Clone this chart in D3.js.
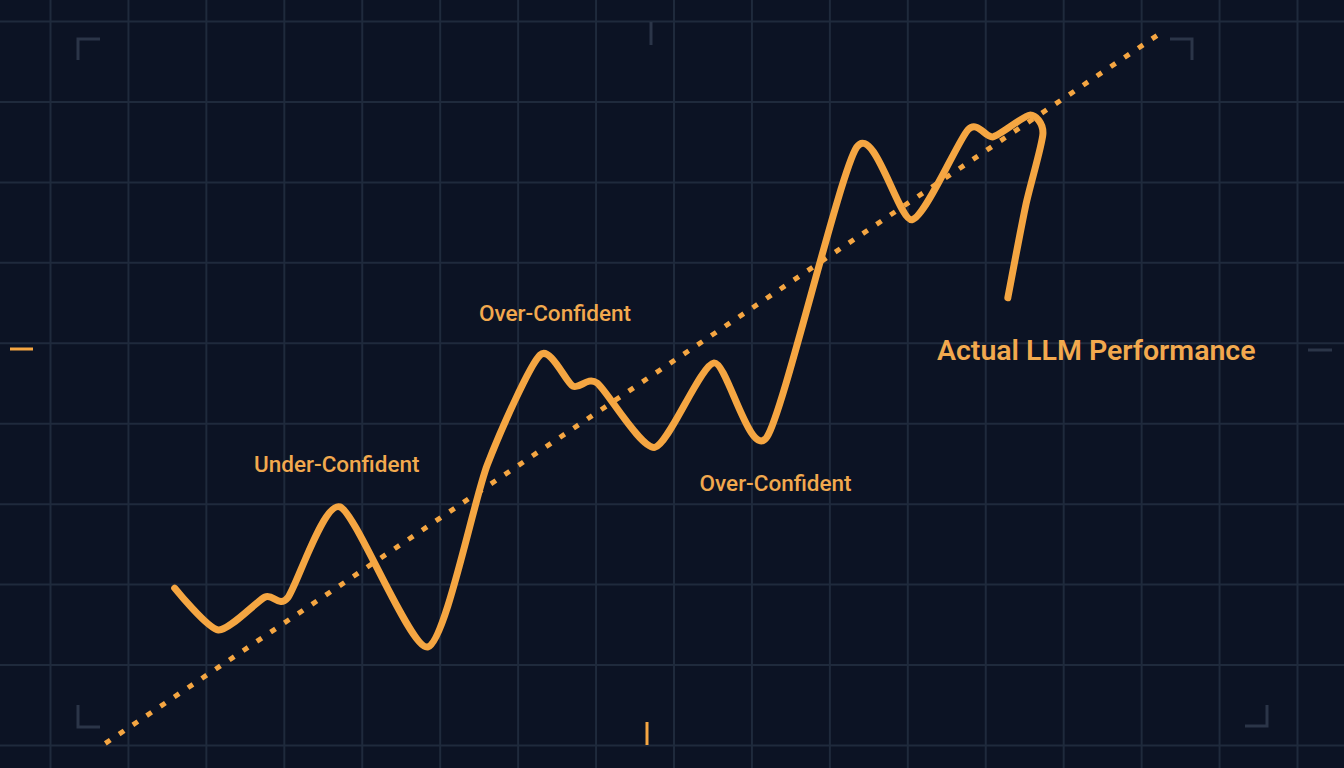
<!DOCTYPE html>
<html>
<head>
<meta charset="utf-8">
<script src="https://cdn.jsdelivr.net/npm/d3@7"></script>
<style>
  html, body { margin: 0; padding: 0; background: #0c1324; }
  svg { display: block; }
</style>
</head>
<body>
<svg id="chart" width="1344" height="768"></svg>
<script>
// ---- Data (grid units: x = step, y = performance level) ----
const perfX = [1.60, 2.16, 2.76, 3.05, 3.72, 4.85, 5.61, 6.29, 6.71, 7.02, 7.76, 8.52, 9.20, 10.35, 11.06, 11.78, 12.10, 12.57, 12.74, 12.52, 12.29];
const perfY = [1.95, 1.43, 1.84, 1.83, 2.96, 1.22, 3.48, 4.85, 4.46, 4.50, 3.70, 4.75, 3.83, 7.43, 6.53, 7.65, 7.56, 7.83, 7.60, 6.71, 5.56];
const trendX = [0.71, 14.22];
const trendY = [0.02, 8.83];
const gridXTicks = d3.range(0, 17);
const gridYTicks = d3.range(0, 10);
const labelText = ["Under-Confident", "Over-Confident", "Over-Confident", "Actual LLM Performance"];
const labelX = [3.68, 6.48, 9.31, 11.38];
const labelY = [3.39, 5.27, 3.16, 4.79];

// ---- Layout ----
const W = 1344, H = 768;
const svg = d3.select("#chart");
const x = d3.scaleLinear().domain([0, 16]).range([50, 1297]);
const y = d3.scaleLinear().domain([0, 9]).range([745, 21]);

const ORANGE = "#f5a642";
const GRID = "#1f2a3c";
const MARK = "#2b3548";

svg.append("rect").attr("width", W).attr("height", H).attr("fill", "#0c1324");

// grid via axes
const gx = svg.append("g").attr("transform", `translate(0,${H})`)
  .call(d3.axisTop(x).tickValues(gridXTicks).tickSize(H).tickFormat(""));
const gy = svg.append("g")
  .call(d3.axisRight(y).tickValues(gridYTicks).tickSize(W).tickFormat(""));
[gx, gy].forEach(g => {
  g.select(".domain").remove();
  g.selectAll("line").attr("stroke", GRID).attr("stroke-width", 2);
});

// corner brackets & edge ticks (decor)
const deco = svg.append("g").attr("fill", "none").attr("stroke-width", 3);
deco.append("path").attr("d", "M100,39 L78,39 L78,60").attr("stroke", MARK);
deco.append("path").attr("d", "M1170,39 L1192,39 L1192,60").attr("stroke", MARK);
deco.append("path").attr("d", "M78,705 L78,727 L100,727").attr("stroke", MARK);
deco.append("path").attr("d", "M1245,726 L1267,726 L1267,705").attr("stroke", MARK);
deco.append("path").attr("d", "M651,22 L651,45").attr("stroke", MARK);
deco.append("path").attr("d", "M1308,350 L1332,350").attr("stroke", MARK);
deco.append("path").attr("d", "M10,349 L33,349").attr("stroke", ORANGE);
deco.append("path").attr("d", "M647,722 L647,745").attr("stroke", ORANGE);

// trend (dotted)
const trend = trendX.map((v, i) => [v, trendY[i]]);
svg.append("path")
  .datum(trend)
  .attr("d", d3.line().x(d => x(d[0])).y(d => y(d[1])))
  .attr("fill", "none")
  .attr("stroke", ORANGE)
  .attr("stroke-width", 5)
  .attr("stroke-dasharray", "6 10.6");

// performance line
const perf = perfX.map((v, i) => [v, perfY[i]]);
svg.append("path")
  .datum(perf)
  .attr("d", d3.line().x(d => x(d[0])).y(d => y(d[1])).curve(d3.curveCardinal.tension(0.3)))
  .attr("fill", "none")
  .attr("stroke", ORANGE)
  .attr("stroke-width", 7)
  .attr("stroke-linecap", "round")
  .attr("stroke-linejoin", "round");

// labels
svg.selectAll("text.lbl")
  .data(labelText)
  .join("text")
  .attr("class", "lbl")
  .attr("x", (d, i) => x(labelX[i]))
  .attr("y", (d, i) => y(labelY[i]))
  .attr("text-anchor", (d, i) => i === 3 ? "start" : "middle")
  .attr("font-family", "Roboto, 'Noto Sans', sans-serif")
  .attr("font-weight", (d, i) => i === 3 ? 600 : 500)
  .attr("font-size", (d, i) => i === 3 ? 28.5 : 22.5)
  .attr("fill", "#f2a94e")
  .text(d => d);
</script>
</body>
</html>
